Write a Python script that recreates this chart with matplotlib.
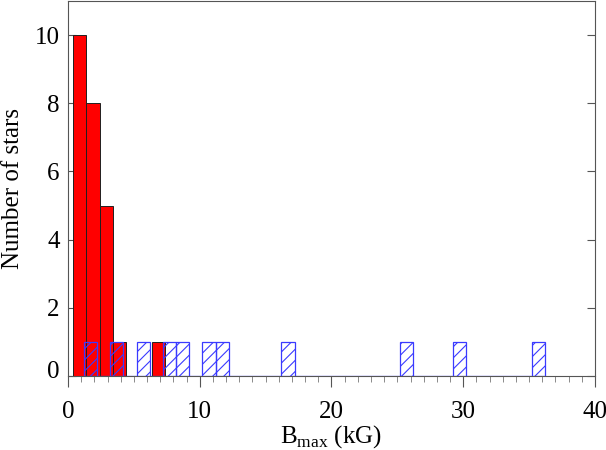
import numpy as np
import matplotlib
matplotlib.use("Agg")
import matplotlib.pyplot as plt
import matplotlib.transforms as mtransforms
from matplotlib.ticker import MultipleLocator

# ── data ──────────────────────────────────────────────────────────────────────
# red histogram: left bin edges (kG) and number of stars
RED_LEFT  = [0.4, 1.4, 2.4, 3.4, 4.4, 5.4, 6.4]
RED_COUNT = [10, 8, 5, 1, 0, 0, 1]

# blue hatched histogram: bins of 1 kG starting at 1.2 kG, stars per bin
BLUE_START = 1.2
BLUE_STOP  = 36.2
BLUE_LEFT  = [1.2, 3.2, 5.2, 7.2, 8.2, 10.2, 11.2, 16.2, 25.2, 29.2, 35.2]
BLUE_COUNT = [1, 1, 1, 1, 1, 1, 1, 1, 1, 1, 1]

BIN_WIDTH = 1.0

RED  = "#ff0000"
BLUE = "#3a3aff"

plt.rcParams["font.family"] = ["Liberation Serif", "DejaVu Serif"]
plt.rcParams["mathtext.fontset"] = "custom"
plt.rcParams["mathtext.rm"] = "Liberation Serif"
plt.rcParams["hatch.linewidth"] = 0.8


def main():
    fig = plt.figure(figsize=(6.06, 4.5), dpi=100)
    ax = fig.add_axes([0.1122, 0.1644, 0.8696, 0.8334])

    ax.bar(RED_LEFT, RED_COUNT, width=BIN_WIDTH, align="edge",
           color=RED, edgecolor="#202020", linewidth=0.7, zorder=2)

    edges = np.arange(BLUE_START, BLUE_STOP + 0.01, BIN_WIDTH)
    centers = np.array(BLUE_LEFT) + BIN_WIDTH / 2
    ax.hist(centers, bins=edges, weights=BLUE_COUNT, histtype="bar",
            fill=False, hatch="///", edgecolor=BLUE, linewidth=0.9, zorder=3)

    ax.set_xlim(0, 40)
    ax.set_ylim(0, 11)
    ax.xaxis.set_major_locator(MultipleLocator(10))
    ax.xaxis.set_minor_locator(MultipleLocator(1))
    ax.yaxis.set_major_locator(MultipleLocator(2))

    ax.tick_params(axis="x", which="major", direction="out", length=8,
                   width=0.8, color="#555555", labelsize=18, pad=10)
    ax.tick_params(axis="x", which="minor", direction="out", length=4,
                   width=0.6, color="#777777")
    ax.tick_params(axis="y", which="major", direction="in", length=6,
                   width=0.8, color="#555555", labelsize=18, pad=6,
                   left=True, right=True)

    for sp in ax.spines.values():
        sp.set_color("#555555")
        sp.set_linewidth(0.8)

    ax.set_xlabel(r"B$_{\rm max}$ (kG)", fontsize=18, labelpad=0)
    ax.set_ylabel("Number of stars", fontsize=18, labelpad=8)

    # the "0" on the y axis sits a little above its tick
    fig.canvas.draw()
    lift = mtransforms.ScaledTranslation(0, 7 / 100, fig.dpi_scale_trans)
    for tick in ax.yaxis.get_major_ticks():
        if abs(tick.get_loc()) < 1e-9:
            tick.label1.set_transform(tick.label1.get_transform() + lift)

    fig.savefig("out.png", dpi=100)


if __name__ == "__main__":
    main()
